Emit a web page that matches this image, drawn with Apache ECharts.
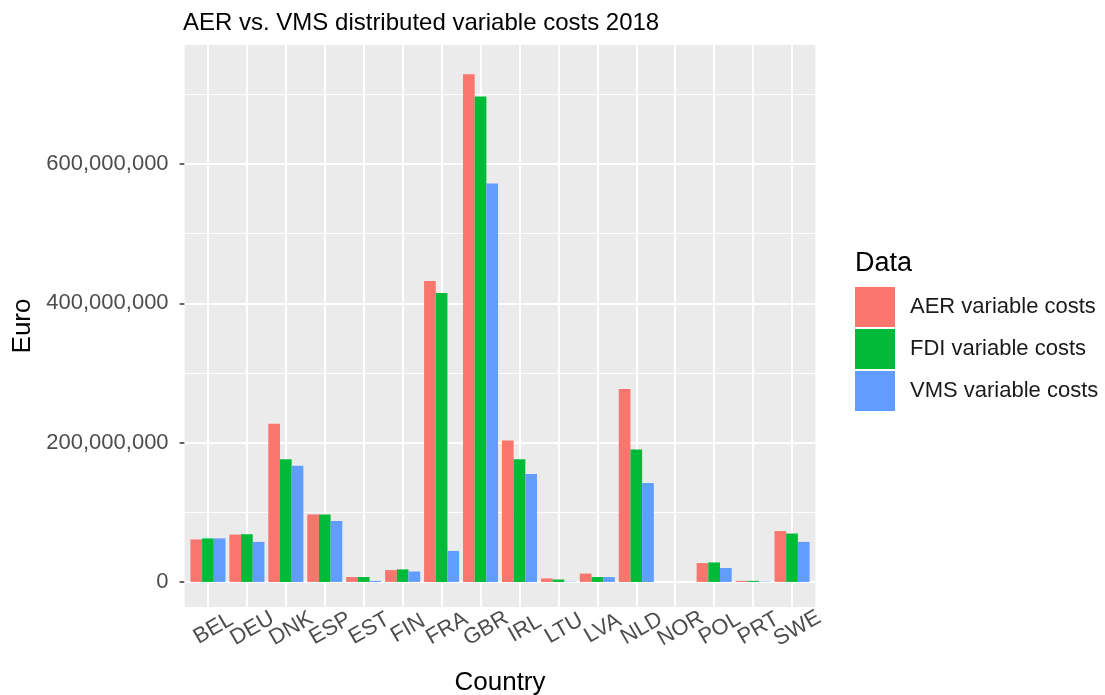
<!DOCTYPE html>
<html><head><meta charset="utf-8">
<script src="https://cdn.jsdelivr.net/npm/echarts@6/dist/echarts.min.js"></script>
<style>html,body{margin:0;padding:0;background:#fff}#c{width:1105px;height:695px}</style>
</head><body><div id="c"></div>
<script>
// ---- data (millions of euro) ----
const categories = ['BEL','DEU','DNK','ESP','EST','FIN','FRA','GBR','IRL','LTU','LVA','NLD','NOR','POL','PRT','SWE'];
const aerCosts = [61, 68, 227, 97, 7, 17, 432, 729, 203, 5, 12, 277, 0, 27, 1.5, 73];
const fdiCosts = [62.5, 68.5, 176, 97, 7, 18, 415, 697, 176, 3.5, 7, 190, 0, 28, 1.5, 69.5];
const vmsCosts = [62.5, 57.5, 167, 87.5, 1.5, 15, 44.5, 572, 155, 0.5, 7, 142, 0, 20, 0.5, 57.5];
const seriesNames = ['AER variable costs', 'FDI variable costs', 'VMS variable costs'];
const yTickValues = [0, 200000000, 400000000, 600000000];
const yMinorValues = [100000000, 300000000, 500000000, 700000000];
const MILLION = 1e6;

const FONT = '"Liberation Sans", Arial, sans-serif';
const colors = ['#F8766D', '#00BA38', '#619CFF'];
const yMin = -36e6, yMax = 771e6;
const panelL = 184.6, panelR = 815.4, panelT = 45, panelB = 607;
const unit = (panelR - panelL) / (categories.length + 0.2);
const toEuro = a => a.map(v => v * MILLION);

const chart = echarts.init(document.getElementById('c'), null, {renderer: 'canvas'});
const gridLine = (v, w) => ({yAxis: v, lineStyle: {color: '#FFFFFF', width: w, type: 'solid'}});

const option = {
  animation: false,
  backgroundColor: '#FFFFFF',
  textStyle: {fontFamily: FONT},
  title: [
    {text: 'AER vs. VMS distributed variable costs 2018', left: 183, top: 11, padding: 0,
     textStyle: {fontFamily: FONT, fontSize: 24, fontWeight: 'normal', color: '#000'}},
    {text: 'Data', left: 855, top: 250, padding: 0,
     textStyle: {fontFamily: FONT, fontSize: 27, fontWeight: 'normal', color: '#000'}}
  ],
  legend: {
    data: seriesNames, orient: 'vertical', left: 855, top: 287, padding: 0,
    itemWidth: 40, itemHeight: 40, itemGap: 2, icon: 'rect',
    textStyle: {fontFamily: FONT, fontSize: 22, color: '#1a1a1a', padding: [2, 0, 0, 10]}
  },
  grid: [
    {left: panelL, width: panelR - panelL, top: panelT, height: panelB - panelT,
     show: true, backgroundColor: '#EBEBEB', borderWidth: 0, containLabel: false, outerBoundsMode: 'none'},
    {left: panelL + 0.1 * unit, width: categories.length * unit, top: panelT, height: panelB - panelT,
     show: false, containLabel: false, outerBoundsMode: 'none'}
  ],
  xAxis: [
    {type: 'value', gridIndex: 0, min: 0, max: 1, show: false},
    {type: 'category', gridIndex: 1, data: categories,
     axisLine: {show: false},
     axisTick: {show: true, alignWithLabel: true, length: 4, lineStyle: {color: '#333', width: 1.5}},
     axisLabel: {rotate: 30, align: 'center', verticalAlign: 'top', fontFamily: FONT, fontSize: 22,
                 color: '#4D4D4D', margin: 12, interval: 0},
     splitLine: {show: false},
     name: 'Country', nameLocation: 'middle', nameGap: 63,
     nameTextStyle: {fontFamily: FONT, fontSize: 26, color: '#000'}}
  ],
  yAxis: [
    {type: 'value', gridIndex: 0, min: yMin, max: yMax,
     axisLine: {show: false},
     axisTick: {show: true, length: 5, customValues: yTickValues, lineStyle: {color: '#333', width: 1.5}},
     axisLabel: {customValues: yTickValues, fontFamily: FONT, fontSize: 22, color: '#4D4D4D', margin: 16,
                 formatter: v => Number(v).toLocaleString('en-US')},
     splitLine: {show: false},
     name: 'Euro', nameLocation: 'middle', nameRotate: 90, nameGap: 140,
     nameTextStyle: {fontFamily: FONT, fontSize: 26, color: '#000'}},
    {type: 'value', gridIndex: 1, min: yMin, max: yMax, show: false, splitLine: {show: false}}
  ],
  series: [
    {type: 'line', xAxisIndex: 0, yAxisIndex: 0, data: [], silent: true,
     markLine: {silent: true, z: 1, symbol: 'none', label: {show: false}, emphasis: {disabled: true},
       data: yTickValues.map(v => gridLine(v, 2)).concat(yMinorValues.map(v => gridLine(v, 1)))}},
    {type: 'line', xAxisIndex: 1, yAxisIndex: 1, data: [], silent: true,
     markLine: {silent: true, z: 1, symbol: 'none', label: {show: false}, emphasis: {disabled: true},
       data: categories.map(c => ({xAxis: c, lineStyle: {color: '#FFFFFF', width: 2, type: 'solid'}}))}},
    {name: seriesNames[0], type: 'bar', xAxisIndex: 1, yAxisIndex: 1, data: toEuro(aerCosts),
     itemStyle: {color: colors[0]}, barGap: '0%', barCategoryGap: '10%', z: 3},
    {name: seriesNames[1], type: 'bar', xAxisIndex: 1, yAxisIndex: 1, data: toEuro(fdiCosts),
     itemStyle: {color: colors[1]}, barGap: '0%', barCategoryGap: '10%', z: 3},
    {name: seriesNames[2], type: 'bar', xAxisIndex: 1, yAxisIndex: 1, data: toEuro(vmsCosts),
     itemStyle: {color: colors[2]}, barGap: '0%', barCategoryGap: '10%', z: 3}
  ]
};
chart.setOption(option);
</script></body></html>
